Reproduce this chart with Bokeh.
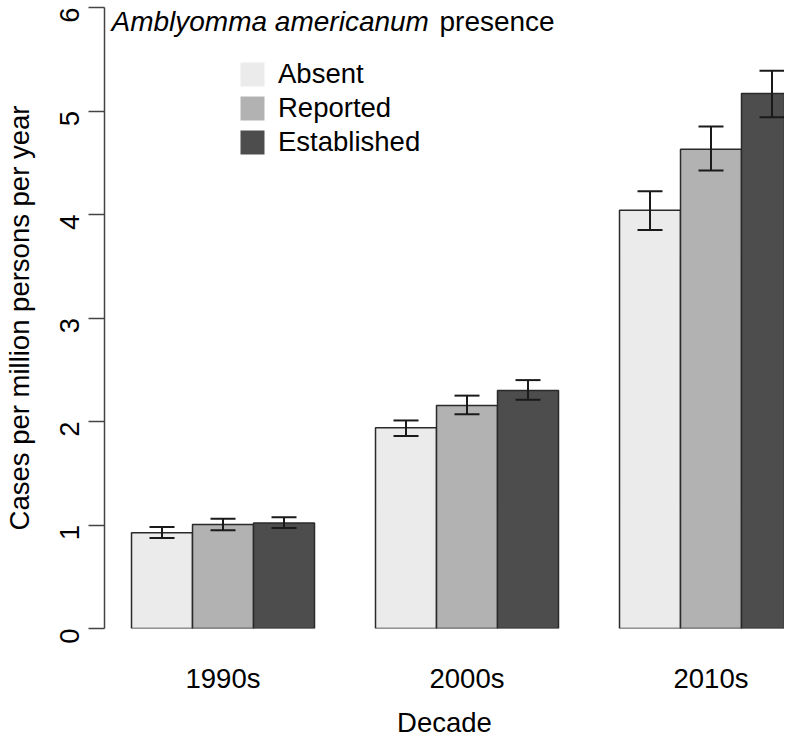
import math
import numpy as np
from bokeh.plotting import figure
from bokeh.models import (ColumnDataSource, Range1d, FixedTicker, Whisker, TeeHead,
                          Label, Legend, LegendItem)
from bokeh.embed import file_html
from bokeh.resources import INLINE

# ---- data ----
decades = ["1990s", "2000s", "2010s"]
levels = ["Absent", "Reported", "Established"]
absent = [0.925, 1.94, 4.04]
absent_lo = [0.875, 1.86, 3.85]
absent_hi = [0.98, 2.01, 4.225]
reported = [1.005, 2.155, 4.63]
reported_lo = [0.95, 2.07, 4.425]
reported_hi = [1.06, 2.25, 4.85]
established = [1.02, 2.30, 5.17]
established_lo = [0.97, 2.21, 4.94]
established_hi = [1.075, 2.40, 5.39]
y_ticks = [0, 1, 2, 3, 4, 5, 6]
colors = ["#EBEBEB", "#B2B2B2", "#4D4D4D"]

values = [absent, reported, established]
lows = [absent_lo, reported_lo, established_lo]
highs = [absent_hi, reported_hi, established_hi]

FONT = "Liberation Sans"
FS = "27.5px"
BAR_W = 0.25

p = figure(frame_width=680, frame_height=621,
           x_range=Range1d(-0.4857, 2.3012), y_range=Range1d(0, 6),
           output_backend="svg", toolbar_location=None,
           min_border_left=104, min_border_right=0, min_border_top=7,
           min_border_bottom=112, outline_line_color=None)
p.xgrid.visible = False
p.ygrid.visible = False

group_idx = np.arange(len(decades))
legend_items = []
for k, lvl in enumerate(levels):
    xs = group_idx + (k - 1) * BAR_W
    src = ColumnDataSource(dict(x=xs, top=values[k], lo=lows[k], hi=highs[k]))
    p.vbar(x="x", top="top", bottom=0, width=BAR_W, source=src,
           fill_color=colors[k], line_color="#2a2a2a", line_width=1.5)
    w = Whisker(base="x", upper="hi", lower="lo", source=src, level="overlay",
                line_color="#1a1a1a", line_width=2,
                upper_head=TeeHead(size=25, line_color="#1a1a1a", line_width=2),
                lower_head=TeeHead(size=25, line_color="#1a1a1a", line_width=2))
    p.add_layout(w)
    # legend proxy: zero-height bar (invisible), fill only
    proxy = p.vbar(x=xs[:1], top=[0], bottom=0, width=BAR_W,
                   fill_color=colors[k], line_color=None)
    legend_items.append(LegendItem(label=lvl, renderers=[proxy]))

legend = Legend(items=legend_items, location=(133, 469), padding=0, margin=0,
                spacing=0, glyph_width=30, glyph_height=30, label_height=34,
                label_standoff=11, border_line_color=None,
                background_fill_alpha=0, label_text_font=FONT,
                label_text_font_size=FS, label_text_color="#000000")
p.add_layout(legend)

# y axis
yax = p.yaxis[0]
yax.ticker = FixedTicker(ticks=y_ticks)
yax.major_label_orientation = math.pi / 2
yax.major_tick_out = 16
yax.major_tick_in = 0
yax.minor_tick_out = 0
yax.minor_tick_in = 0
yax.major_label_standoff = 19
yax.axis_line_color = "#444444"
yax.axis_line_width = 1.5
yax.major_tick_line_color = "#444444"
yax.major_tick_line_width = 1.5
yax.major_label_text_font = FONT
yax.major_label_text_font_size = FS
yax.major_label_text_color = "#000000"
yax.axis_label = "Cases per million persons per year"
yax.axis_label_standoff = 13
yax.axis_label_text_font = FONT
yax.axis_label_text_font_size = FS
yax.axis_label_text_font_style = "normal"
yax.axis_label_text_color = "#000000"

# x axis
xax = p.xaxis[0]
xax.ticker = FixedTicker(ticks=list(group_idx))
xax.major_label_overrides = {int(i): d for i, d in zip(group_idx, decades)}
xax.axis_line_color = None
xax.major_tick_line_color = None
xax.minor_tick_line_color = None
xax.major_label_standoff = 28
xax.major_label_text_font = FONT
xax.major_label_text_font_size = FS
xax.major_label_text_color = "#000000"
xax.axis_label = "Decade"
xax.axis_label_standoff = 10
xax.axis_label_text_font = FONT
xax.axis_label_text_font_size = FS
xax.axis_label_text_font_style = "normal"
xax.axis_label_text_color = "#000000"

# legend title (italic species name + plain word), placed in data space
p.add_layout(Label(x=-0.4570, y=5.865, text="Amblyomma americanum", text_font=FONT,
                   text_font_style="italic", text_font_size="28px",
                   text_baseline="alphabetic", text_align="left", text_color="#000000"))
p.add_layout(Label(x=0.8873, y=5.865, text="presence", text_font=FONT,
                   text_font_size="28px", text_baseline="alphabetic",
                   text_align="left", text_color="#000000"))

open("out.html", "w").write(file_html(p, INLINE))
